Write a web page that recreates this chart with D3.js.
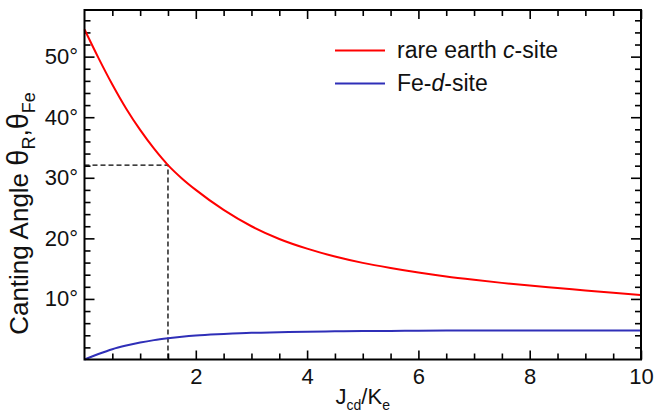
<!DOCTYPE html>
<html>
<head>
<meta charset="utf-8">
<script src="https://cdn.jsdelivr.net/npm/d3@7"></script>
<style>
  body { margin: 0; background: #fff; }
  svg { display: block; font-family: "Liberation Sans", Arial, sans-serif; }
  .axis text { font-size: 22px; fill: #111; }
  .axis line { stroke: #000; stroke-width: 1.6; }
  .axis .domain { display: none; }
</style>
</head>
<body>
<svg width="656" height="414"></svg>
<script>
// J_cd / K_e
var ratio = [0, 0.25, 0.5, 0.75, 1, 1.25, 1.5, 1.75, 2, 2.5, 3, 3.5, 4, 4.5, 5, 5.5, 6, 6.5, 7, 7.5, 8, 8.5, 9, 9.5, 10];
// canting angles (degrees)
var thetaR = [54.5, 49.8, 45.4, 41.4, 37.9, 34.8, 32.1, 29.9, 28.0, 24.7, 22.0, 19.9, 18.3, 17.0, 15.95, 15.1, 14.35, 13.7, 13.15, 12.65, 12.2, 11.8, 11.4, 11.0, 10.65];
var thetaFe = [0, 0.9, 1.7, 2.3, 2.8, 3.2, 3.5, 3.75, 3.95, 4.2, 4.4, 4.5, 4.6, 4.65, 4.7, 4.72, 4.75, 4.77, 4.78, 4.79, 4.8, 4.8, 4.8, 4.8, 4.8];
var xTicks = [2, 4, 6, 8, 10];
var yTicks = [10, 20, 30, 40, 50];
var marker = {x: 1.5, y: 32.1};

var svg = d3.select("svg");
var pLeft = 84.5, pRight = 641, pTop = 10, pBottom = 359.5;

var x = d3.scaleLinear().domain([0, 10]).range([pLeft, pRight]);
var y = d3.scaleLinear().domain([0, 57.7]).range([pBottom, pTop]);

var minorX = d3.range(0.5, 10, 0.5).filter(function(d) {return xTicks.indexOf(d) < 0;});
var minorY = d3.range(2, 57, 2).filter(function(d) {return d % 10 !== 0;});

function addAxis(axis, tr) {
  return svg.append("g").attr("class", "axis").attr("transform", tr).call(axis);
}

// bottom
addAxis(d3.axisBottom(x).tickValues(xTicks).tickSize(-9).tickPadding(9), "translate(0," + pBottom + ")");
addAxis(d3.axisBottom(x).tickValues(minorX).tickSize(-6).tickFormat(""), "translate(0," + pBottom + ")");
// top
addAxis(d3.axisTop(x).tickValues(xTicks).tickSize(-9).tickFormat(""), "translate(0," + pTop + ")");
addAxis(d3.axisTop(x).tickValues(minorX).tickSize(-6).tickFormat(""), "translate(0," + pTop + ")");
// left
addAxis(d3.axisLeft(y).tickValues(yTicks).tickSize(-10).tickPadding(6.5)
  .tickFormat(function(d) {return d + "°";}), "translate(" + pLeft + ",0)");
addAxis(d3.axisLeft(y).tickValues(minorY).tickSize(-6).tickFormat(""), "translate(" + pLeft + ",0)");
// right
addAxis(d3.axisRight(y).tickValues(yTicks).tickSize(-10).tickFormat(""), "translate(" + pRight + ",0)");
addAxis(d3.axisRight(y).tickValues(minorY).tickSize(-6).tickFormat(""), "translate(" + pRight + ",0)");

// dashed guide
svg.append("path")
  .attr("d", "M" + x(0) + "," + y(marker.y) + "H" + x(marker.x) + "V" + y(0))
  .attr("fill", "none").attr("stroke", "#000").attr("stroke-width", 1.3)
  .attr("stroke-dasharray", "5,3");

var line = d3.line().curve(d3.curveMonotoneX);
function pts(vals) {return ratio.map(function(r, i) {return [x(r), y(vals[i])];});}

svg.append("path").attr("d", line(pts(thetaR)))
  .attr("fill", "none").attr("stroke", "#ff0000").attr("stroke-width", 2);
svg.append("path").attr("d", line(pts(thetaFe)))
  .attr("fill", "none").attr("stroke", "#2f2fb8").attr("stroke-width", 2);

// frame
svg.append("rect").attr("x", pLeft).attr("y", pTop)
  .attr("width", pRight - pLeft).attr("height", pBottom - pTop)
  .attr("fill", "none").attr("stroke", "#000").attr("stroke-width", 2);

// legend
var legend = [
  {color: "#ff0000", y: 50.5, parts: [["rare earth ", "normal"], ["c", "italic"], ["-site", "normal"]]},
  {color: "#2f2fb8", y: 83.5, parts: [["Fe-", "normal"], ["d", "italic"], ["-site", "normal"]]}
];
legend.forEach(function(l) {
  svg.append("line").attr("x1", 335).attr("x2", 385).attr("y1", l.y).attr("y2", l.y)
    .attr("stroke", l.color).attr("stroke-width", 2);
  var t = svg.append("text").attr("x", 397).attr("y", l.y + 7.5)
    .attr("font-size", 23).attr("fill", "#111");
  l.parts.forEach(function(p) {
    t.append("tspan").attr("font-style", p[1]).text(p[0]);
  });
});

// x title
var xt = svg.append("text").attr("x", (pLeft + pRight) / 2).attr("y", 404)
  .attr("text-anchor", "middle").attr("font-size", 22).attr("fill", "#111");
xt.append("tspan").text("J");
xt.append("tspan").attr("font-size", 14).attr("dy", 6).text("cd");
xt.append("tspan").attr("dy", -6).text("/K");
xt.append("tspan").attr("font-size", 14).attr("dy", 6).text("e");

// y title
var yt = svg.append("text").attr("transform", "translate(28,213.5) rotate(-90)")
  .attr("text-anchor", "middle").attr("font-size", 26).attr("fill", "#111");
yt.append("tspan").text("Canting Angle ");
yt.append("tspan").attr("font-size", 29).text("θ");
yt.append("tspan").attr("font-size", 18).attr("dy", 7).text("R");
yt.append("tspan").attr("dy", -7).text(",");
yt.append("tspan").attr("font-size", 29).text("θ");
yt.append("tspan").attr("font-size", 18).attr("dy", 7).text("Fe");
</script>
</body>
</html>
